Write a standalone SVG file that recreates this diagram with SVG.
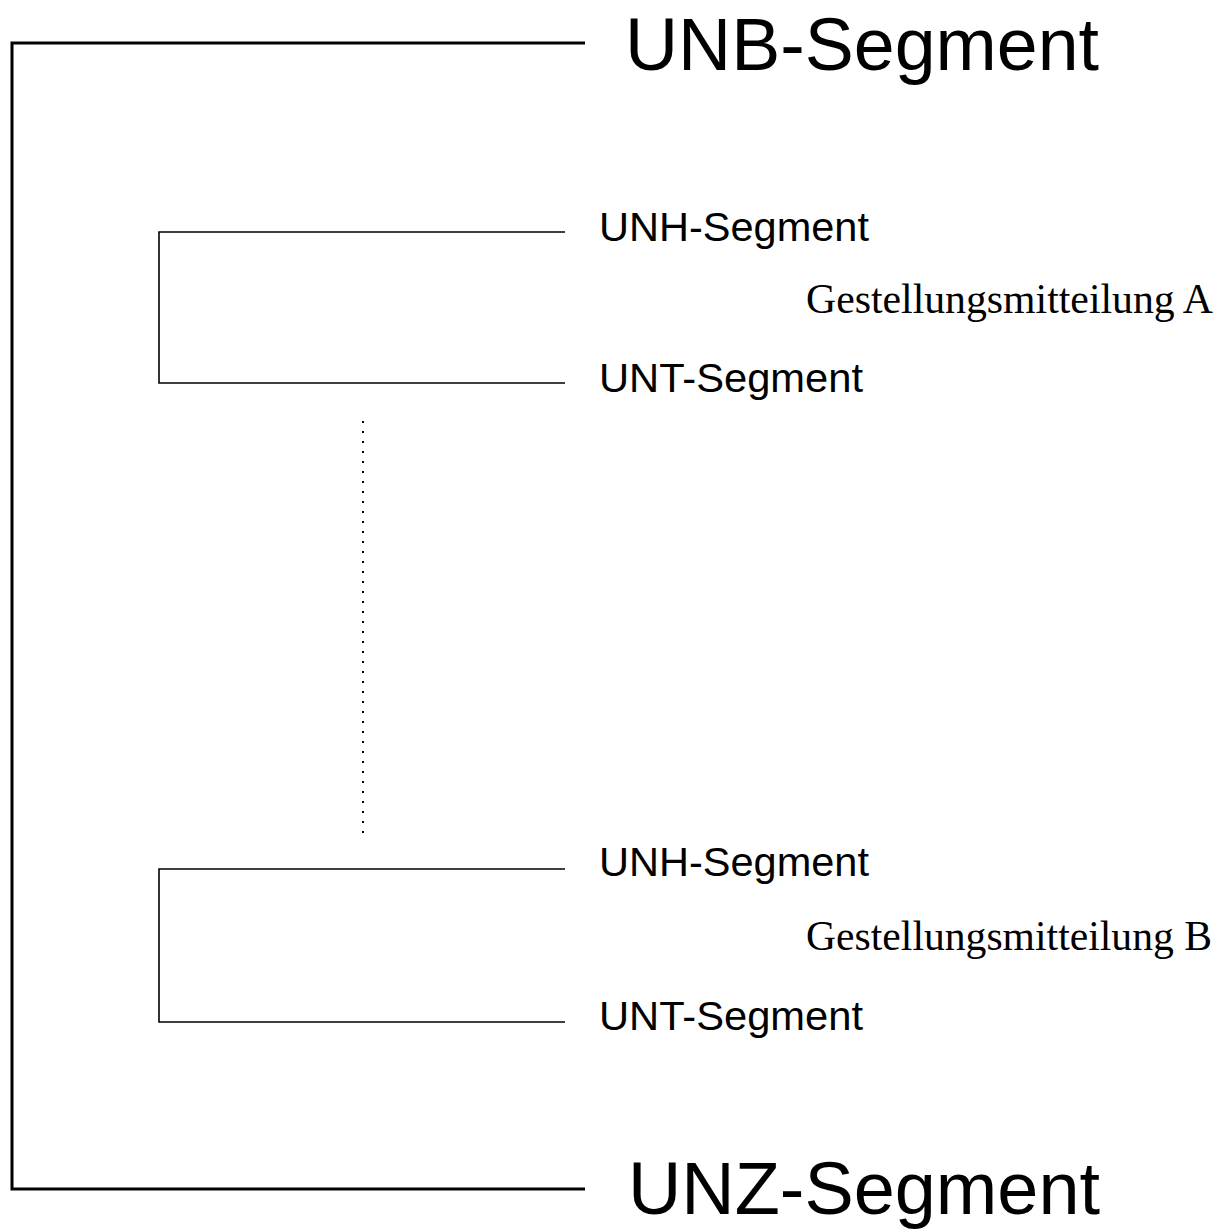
<svg xmlns="http://www.w3.org/2000/svg" width="1227" height="1229" viewBox="0 0 1227 1229">
<style>
.bg{fill:#fff}
.outer{fill:none;stroke:#000;stroke-width:3}
.inner{fill:none;stroke:#000;stroke-width:1.6}
.dots{fill:none;stroke:#000;stroke-width:2;stroke-dasharray:2 8}
.big{font-family:"Liberation Sans",Arial,sans-serif;font-size:74px;fill:#000}
.seg{font-family:"Liberation Sans",Arial,sans-serif;font-size:41px;fill:#000}
.msg{font-family:"Liberation Serif","Times New Roman",serif;font-size:42px;fill:#000}
</style>
<rect class="bg" x="0" y="0" width="1227" height="1229"/>
<g id="connectors">
<path class="outer" d="M585,43 H12 V1189 H585"/>
<path class="inner" d="M565,232 H159 V383 H565"/>
<path class="inner" d="M565,869 H159 V1022 H565"/>
<line class="dots" x1="363" y1="421" x2="363" y2="834"/>
</g>
<g id="unb"><text class="big" x="625" y="70" textLength="474" lengthAdjust="spacingAndGlyphs">UNB-Segment</text></g>
<g id="unh-a"><text class="seg" x="599" y="241" textLength="270" lengthAdjust="spacingAndGlyphs">UNH-Segment</text></g>
<g id="msg-a"><text class="msg" x="806" y="313" textLength="407" lengthAdjust="spacingAndGlyphs">Gestellungsmitteilung A</text></g>
<g id="unt-a"><text class="seg" x="599" y="392" textLength="264" lengthAdjust="spacingAndGlyphs">UNT-Segment</text></g>
<g id="unh-b"><text class="seg" x="599" y="876" textLength="270" lengthAdjust="spacingAndGlyphs">UNH-Segment</text></g>
<g id="msg-b"><text class="msg" x="806" y="950" textLength="406" lengthAdjust="spacingAndGlyphs">Gestellungsmitteilung B</text></g>
<g id="unt-b"><text class="seg" x="599" y="1030" textLength="264" lengthAdjust="spacingAndGlyphs">UNT-Segment</text></g>
<g id="unz"><text class="big" x="628" y="1214" textLength="472" lengthAdjust="spacingAndGlyphs">UNZ-Segment</text></g>
</svg>
